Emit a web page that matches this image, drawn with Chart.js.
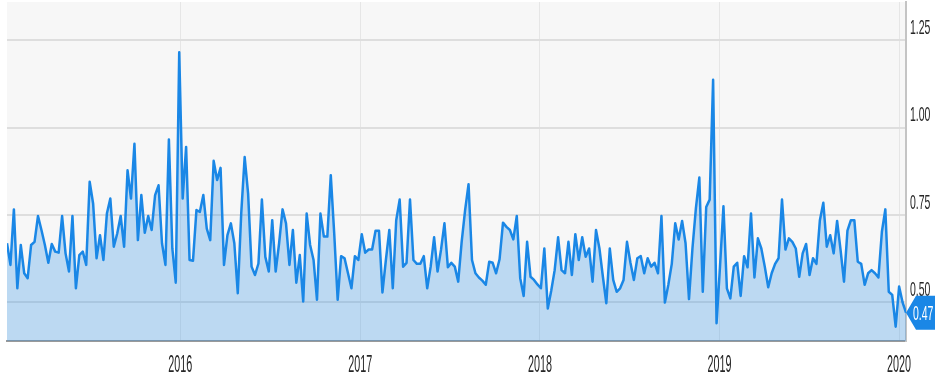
<!DOCTYPE html>
<html>
<head>
<meta charset="utf-8">
<style>
  html, body { margin: 0; padding: 0; background: #fff; }
  #wrap { width: 935px; height: 387px; }
</style>
<script src="https://cdn.jsdelivr.net/npm/chart.js"></script>
</head>
<body>
<div id="wrap"><canvas id="chart" width="935" height="387"></canvas></div>
<script>
// weekly values, first week starts mid January 2015
const startDate = Date.UTC(2015, 0, 14);

const vals2015 = [0.669, 0.607, 0.766, 0.540, 0.664, 0.583, 0.569, 0.664, 0.673, 0.747,
  0.707, 0.664, 0.613, 0.667, 0.645, 0.642, 0.747, 0.640, 0.588, 0.747,
  0.540, 0.635, 0.645, 0.607, 0.845, 0.783, 0.626, 0.692, 0.621, 0.754,
  0.797, 0.659, 0.697, 0.747, 0.659, 0.878, 0.797, 0.954, 0.678, 0.807,
  0.699, 0.747, 0.707, 0.807, 0.835, 0.669, 0.607, 0.966, 0.654, 0.556, 1.216];
const vals2016 = [0.797, 0.945, 0.621, 0.619, 0.764, 0.759, 0.807, 0.711, 0.678, 0.905,
  0.850, 0.885, 0.607, 0.692, 0.726, 0.669, 0.526, 0.754, 0.916, 0.811,
  0.602, 0.578, 0.611, 0.794, 0.630, 0.588, 0.735, 0.588, 0.669, 0.766,
  0.726, 0.607, 0.707, 0.556, 0.635, 0.502, 0.754, 0.664, 0.621, 0.507,
  0.754, 0.688, 0.688, 0.864, 0.697, 0.507, 0.632, 0.626, 0.583, 0.540, 0.632, 0.621];
const vals2017 = [0.695, 0.642, 0.651, 0.651, 0.705, 0.705, 0.528, 0.621, 0.707, 0.540,
  0.735, 0.794, 0.602, 0.613, 0.794, 0.621, 0.610, 0.610, 0.632, 0.540,
  0.602, 0.686, 0.588, 0.650, 0.726, 0.600, 0.613, 0.602, 0.559, 0.673,
  0.764, 0.838, 0.621, 0.583, 0.571, 0.562, 0.550, 0.616, 0.613, 0.583,
  0.623, 0.728, 0.716, 0.707, 0.680, 0.747, 0.569, 0.518, 0.673, 0.573, 0.564, 0.551];
const vals2018 = [0.540, 0.654, 0.482, 0.533, 0.592, 0.686, 0.592, 0.583, 0.673, 0.578,
  0.695, 0.621, 0.686, 0.630, 0.654, 0.559, 0.707, 0.654, 0.573, 0.497,
  0.654, 0.564, 0.530, 0.540, 0.564, 0.673, 0.613, 0.564, 0.626, 0.632,
  0.583, 0.626, 0.602, 0.613, 0.583, 0.747, 0.499, 0.550, 0.610, 0.726,
  0.680, 0.733, 0.669, 0.509, 0.654, 0.769, 0.857, 0.530, 0.773, 0.794, 1.137, 0.440];
const vals2019 = [0.602, 0.775, 0.540, 0.511, 0.602, 0.613, 0.518, 0.632, 0.600, 0.754,
  0.571, 0.683, 0.654, 0.602, 0.543, 0.583, 0.610, 0.626, 0.794, 0.651,
  0.683, 0.673, 0.654, 0.573, 0.640, 0.667, 0.578, 0.626, 0.610, 0.735,
  0.785, 0.659, 0.692, 0.640, 0.733, 0.650, 0.559, 0.705, 0.735, 0.735,
  0.616, 0.610, 0.550, 0.583, 0.592, 0.583, 0.571, 0.702, 0.766, 0.530, 0.521, 0.430];
const vals2020 = [0.545, 0.500, 0.470];

const yearTicks = [2016, 2017, 2018, 2019, 2020];
const valueTicks = [0.50, 0.75, 1.00, 1.25];

const WEEK = 7 * 24 * 3600 * 1000;
const values = [].concat(vals2015, vals2016, vals2017, vals2018, vals2019, vals2020);
const points = values.map((v, i) => ({ x: startDate + i * WEEK, y: v }));

const lineColor = '#1a87e6';

// plot background
const plotBg = {
    id: 'plotBg',
    beforeDraw(chart) {
        const { ctx, chartArea: a } = chart;
        ctx.save();
        ctx.fillStyle = '#f7f7f7';
        ctx.fillRect(a.left, a.top, a.right - a.left, a.bottom - a.top);
        ctx.restore();
    }
};

// narrow tick labels + last value tag
function narrowText(ctx, text, x, y, sx) {
    ctx.save();
    ctx.translate(x, y);
    ctx.scale(sx, 1);
    ctx.fillText(text, 0, 0);
    ctx.restore();
}

const labels = {
    id: 'labels',
    afterDraw(chart) {
        const ctx = chart.ctx;
        const xs = chart.scales.x, ys = chart.scales.y;
        ctx.save();
        ctx.fillStyle = '#262626';
        ctx.textBaseline = 'middle';

        ctx.font = '24px "Liberation Sans", Arial, sans-serif';
        ctx.textAlign = 'center';
        xs.ticks.forEach(t => {
            narrowText(ctx, String(new Date(t.value).getUTCFullYear()), xs.getPixelForValue(t.value), xs.top + 24, 0.45);
        });

        ctx.font = '21px "Liberation Sans", Arial, sans-serif';
        ctx.textAlign = 'left';
        ys.ticks.forEach(t => {
            narrowText(ctx, t.value.toFixed(2), ys.left + 4, ys.getPixelForValue(t.value) - 12, 0.5);
        });

        // last value tag
        const last = values[values.length - 1];
        const px = xs.right, py = ys.getPixelForValue(last);
        ctx.fillStyle = lineColor;
        ctx.beginPath();
        ctx.moveTo(px, py);
        ctx.lineTo(px + 10, py - 17);
        ctx.lineTo(chart.width, py - 17);
        ctx.lineTo(chart.width, py + 17);
        ctx.lineTo(px + 10, py + 17);
        ctx.closePath();
        ctx.fill();
        ctx.fillStyle = '#fff';
        narrowText(ctx, last.toFixed(2), px + 7, py + 1, 0.5);
        ctx.restore();
    }
};

new Chart(document.getElementById('chart'), {
    type: 'line',
    data: {
        datasets: [{
            data: points,
            borderColor: lineColor,
            borderWidth: 2.5,
            backgroundColor: 'rgba(30, 136, 229, 0.27)',
            fill: 'start',
            pointRadius: 0,
            tension: 0,
            borderJoinStyle: 'round'
        }]
    },
    options: {
        responsive: false,
        animation: false,
        layout: { padding: { left: 7, top: 2, right: 0, bottom: 0 } },
        plugins: { legend: { display: false }, tooltip: { enabled: false } },
        scales: {
            x: {
                type: 'linear',
                min: points[0].x,
                max: points[points.length - 1].x,
                afterBuildTicks: s => { s.ticks = yearTicks.map(y => ({ value: Date.UTC(y, 0, 1) })); },
                afterFit: s => { s.height = 46; },
                ticks: { display: false },
                grid: { color: '#e6e6e6', lineWidth: 1, drawTicks: false },
                border: { color: '#9a9a9a', width: 2 }
            },
            y: {
                position: 'right',
                min: 0.389,
                max: 1.36,
                afterBuildTicks: s => { s.ticks = valueTicks.map(v => ({ value: v })); },
                afterFit: s => { s.width = 29; },
                ticks: { display: false },
                grid: { color: '#dedede', lineWidth: 2, drawTicks: false },
                border: { color: '#c4c4c4', width: 2 }
            }
        }
    },
    plugins: [plotBg, labels]
});
</script>
</body>
</html>
